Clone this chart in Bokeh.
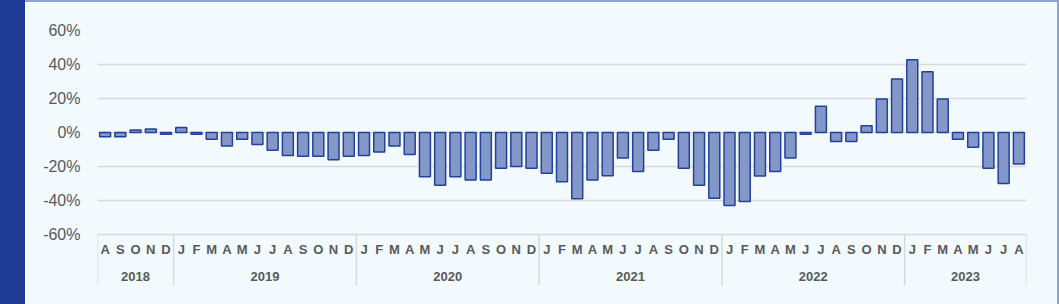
from bokeh.plotting import figure
from bokeh.models import Range1d, FixedTicker, Div, ColumnDataSource
from bokeh.layouts import row, column
from bokeh.core.properties import value
from bokeh.embed import file_html
from bokeh.resources import INLINE

# ---- data ----
month_labels = ["A", "S", "O", "N", "D"] + ["J", "F", "M", "A", "M", "J", "J", "A", "S", "O", "N", "D"] * 4 + \
               ["J", "F", "M", "A", "M", "J", "J", "A"]
values = [
    -2.5, -2.5, 1.5, 2.0, -1.0,                                           # 2018
    3.0, -1.0, -4.0, -8.0, -4.0, -7.0, -10.5, -13.5, -14.0, -14.0, -16.0, -14.0,  # 2019
    -13.5, -11.5, -8.0, -13.0, -26.0, -31.0, -26.0, -28.0, -28.0, -21.0, -20.0, -21.0,  # 2020
    -24.0, -29.0, -39.0, -28.0, -25.5, -15.0, -23.0, -10.5, -4.0, -21.0, -31.0, -38.7,  # 2021
    -43.0, -40.6, -25.6, -23.0, -15.0, -1.0, 15.4, -5.3, -5.3, 4.0, 19.7, 31.4,  # 2022
    42.8, 35.7, 19.7, -4.0, -8.7, -21.0, -30.0, -18.5,                     # 2023
]
years = ["2018", "2019", "2020", "2021", "2022", "2023"]
year_counts = [5, 12, 12, 12, 12, 8]
y_ticks = [-60, -40, -20, 0, 20, 40, 60]

# ---- derived positions ----
n = len(values)
xs = [i + 0.5 for i in range(n)]
bounds = [0]
for c in year_counts:
    bounds.append(bounds[-1] + c)
year_centers = [(bounds[i] + bounds[i + 1]) / 2 for i in range(len(years))]

BG = "#F2FAFE"
GRID = "#D9D9D9"
TXT = "#595959"
FONT = "Liberation Sans"

px_per_unit = 1.7
frame_h = 260
y_top = 60
y_bot = y_top - frame_h / px_per_unit

p = figure(width=1032, height=302, output_backend="svg", toolbar_location=None,
           x_range=Range1d(0, n), y_range=Range1d(y_bot, y_top),
           min_border_left=72, min_border_right=31, min_border_top=28, min_border_bottom=14)
p.background_fill_color = BG
p.border_fill_color = BG
p.outline_line_color = None

# grid
p.xgrid.visible = False
p.ygrid.ticker = FixedTicker(ticks=y_ticks)
p.ygrid.grid_line_color = GRID
p.ygrid.grid_line_width = 1.5

# axes
p.xaxis.visible = False
ya = p.yaxis[0]
ya.ticker = FixedTicker(ticks=y_ticks)
ya.major_label_overrides = {t: f"{t}%" for t in y_ticks}
ya.axis_line_color = None
ya.major_tick_line_color = None
ya.minor_tick_line_color = None
ya.major_tick_out = 0
ya.major_tick_in = 0
ya.major_label_standoff = 17
ya.major_label_text_font = FONT
ya.major_label_text_font_size = "16px"
ya.major_label_text_color = TXT

# bars
src = ColumnDataSource(dict(x=xs, top=values))
p.vbar(x="x", top="top", bottom=0, width=0.72, source=src,
       fill_color="#8497C9", line_color="#23409A", line_width=1.5)

# category axis (months / years) with separators
p.segment(x0=bounds, y0=[-60] * len(bounds), x1=bounds, y1=[-90] * len(bounds),
          line_color=GRID, line_width=1.5)
p.text(x=xs, y=[-68.8] * n, text=month_labels, text_align="center", text_baseline="middle",
       text_font=value(FONT), text_font_style="bold", text_font_size="13px", text_color=TXT)
p.text(x=year_centers, y=[-84.7] * len(years), text=years, text_align="center", text_baseline="middle",
       text_font=value(FONT), text_font_style="bold", text_font_size="13px", text_color=TXT)

stripe = Div(text="", width=25, height=304, margin=(0, 0, 0, 0),
             styles={"background-color": "#1F3A93"})
topline = Div(text="", width=1034, height=2, margin=(0, 0, 0, 0),
              styles={"background-color": "#8EA2D4"})
rightline = Div(text="", width=2, height=302, margin=(0, 0, 0, 0),
                styles={"background-color": "#8EA2D4"})

layout = row(stripe, column(topline, row(p, rightline, spacing=0), spacing=0), spacing=0)

open("out.html", "w").write(file_html(layout, INLINE))
